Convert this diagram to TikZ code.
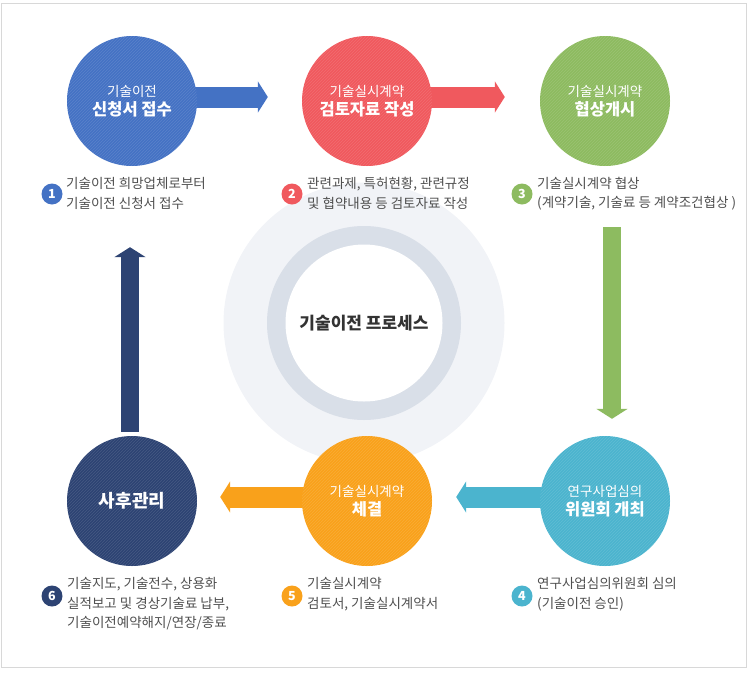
\documentclass[tikz,border=0pt]{standalone}
\usepackage{fontspec}
\setmainfont{Noto Sans CJK KR}
\usetikzlibrary{calc,arrows.meta,backgrounds,patterns}
\definecolor{cblue}{HTML}{4472C4}
\definecolor{cred}{HTML}{F0595E}
\definecolor{cgreen}{HTML}{8DBB60}
\definecolor{cteal}{HTML}{4BB4CE}
\definecolor{corange}{HTML}{F9A11B}
\definecolor{cnavy}{HTML}{2D4373}
\definecolor{outerbg}{HTML}{F1F3F7}
\definecolor{ringc}{HTML}{D9DFE8}
\definecolor{txtgray}{HTML}{4F4F4F}
\definecolor{titlegray}{HTML}{333333}
\definecolor{framegray}{HTML}{D8D8D8}
\begin{document}
\begin{tikzpicture}[x=1pt,y=-1pt,
  stage/.style={circle, minimum size=130pt, inner sep=0pt, text=white, align=center, fill=#1},
  badge/.style={circle, minimum size=21pt, inner sep=0pt, text=white, fill=#1, font=\fontsize{12.5}{12.5}\selectfont\bfseries},
  desc/.style={anchor=west, align=left, text=txtgray, inner sep=0pt, font=\fontsize{13.5}{19.5}\selectfont},
  hbar/.style={draw=#1, line width=21pt, -{Triangle[width=31pt,length=10pt]}},
  vbar/.style={draw=#1, line width=18pt, -{Triangle[width=31pt,length=10pt]}}]
\useasboundingbox (0,0) rectangle (749,672);
\draw[framegray, line width=1pt] (1.5,3.5) rectangle (746,667);

% stage circles
\newcommand{\stagetext}[2]{{\fontsize{13.5}{15}\selectfont #1}\\[3pt]{\fontsize{16.5}{19}\selectfont\bfseries #2}}
\node[stage=cblue]   (c1) at (132,101) {\stagetext{기술이전}{신청서 접수}};
\node[stage=cred]    (c2) at (367,101) {\stagetext{기술실시계약}{검토자료 작성}};
\node[stage=cgreen]  (c3) at (605,101) {\stagetext{기술실시계약}{협상개시}};
\node[stage=cteal]   (c4) at (605,501) {\stagetext{연구사업심의}{위원회 개최}};
\node[stage=corange] (c5) at (367,501) {\stagetext{기술실시계약}{체결}};
\node[stage=cnavy]   (c6) at (132,501) {{\fontsize{18}{20}\selectfont\bfseries 사후관리}};

% subtle hatching on the circles
\foreach \c in {c1,c2,c3,c4,c5,c6}{
  \fill[pattern=north east lines, pattern color=white, opacity=0.12] (\c.center) circle (65);
}

% centre
\begin{scope}[on background layer]
  \node[circle, fill=outerbg, minimum size=281pt, inner sep=0pt] (outer) at (364,323) {};
  \node[circle, fill=ringc, minimum size=194pt, inner sep=0pt] (ring) at (364,323) {};
  \node[circle, fill=white, minimum size=157pt, inner sep=0pt] (inner) at (364,323) {};
  % arrows
  \draw[hbar=cblue]   ([yshift=4pt,xshift=-4pt]c1.east) -- ([yshift=4pt]c2.west) [shorten >=34pt];
  \draw[hbar=cred]    ([yshift=4pt,xshift=-4pt]c2.east) -- ([yshift=4pt]c3.west) [shorten >=35pt];
  \draw[vbar=cgreen]  ([xshift=7pt]c3.south) -- ([xshift=7pt]c4.north) [shorten <=61pt, shorten >=17pt];
  \draw[hbar=corange] ([yshift=4pt,xshift=4pt]c5.west) -- ([yshift=4pt]c6.east) [shorten >=23pt];
  \draw[hbar=cteal]   ([yshift=4pt,xshift=4pt]c4.west) -- ([yshift=4pt]c5.east) [shorten >=24pt];
  \draw[vbar=cnavy]   ([xshift=-2pt,yshift=4pt]c6.north) -- ([xshift=-2pt]c1.south) [shorten >=81pt];
\end{scope}
\node[text=titlegray, font=\fontsize{17}{19}\selectfont\bfseries] (title) at (364,323) {기술이전 프로세스};

% badges and descriptions
\node[badge=cblue]   (b1) at (52,194) {1};
\node[desc] (d1) at (66,193.5) {기술이전 희망업체로부터\\기술이전 신청서 접수};
\node[badge=cred]    (b2) at (292,194) {2};
\node[desc] (d2) at (307,193.5) {관련과제, 특허현황, 관련규정\\및 협약내용 등 검토자료 작성};
\node[badge=cgreen]  (b3) at (522,194) {3};
\node[desc] (d3) at (537,193.5) {기술실시계약 협상\\(계약기술, 기술료 등 계약조건협상 )};
\node[badge=cteal]   (b4) at (522,596) {4};
\node[desc] (d4) at (537,594) {연구사업심의위원회 심의\\(기술이전 승인)};
\node[badge=corange] (b5) at (292,596) {5};
\node[desc] (d5) at (307,594) {기술실시계약\\검토서, 기술실시계약서};
\node[badge=cnavy]   (b6) at (52,596) {6};
\node[desc] (d6) at (67,604) {기술지도, 기술전수, 상용화\\실적보고 및 경상기술료 납부,\\기술이전예약해지/연장/종료};
\end{tikzpicture}
\end{document}
